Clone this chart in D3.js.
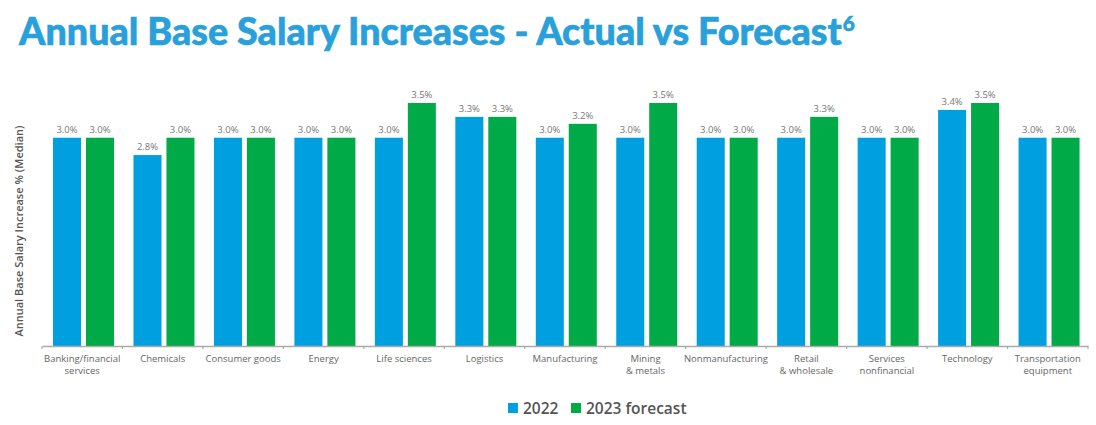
<!DOCTYPE html>
<html>
<head>
<meta charset="utf-8">
<script src="https://cdn.jsdelivr.net/npm/d3@7"></script>
<style>
  html, body { margin: 0; padding: 0; background: #fff; }
  svg { display: block; }
</style>
</head>
<body>
<svg id="chart" width="1096" height="425"></svg>
<script>
// ---- data ----
const categories = [
  "Banking/financial\nservices", "Chemicals", "Consumer goods", "Energy", "Life sciences",
  "Logistics", "Manufacturing", "Mining\n& metals", "Nonmanufacturing", "Retail\n& wholesale",
  "Services\nnonfinancial", "Technology", "Transportation\nequipment"
];
const seriesNames = ["2022", "2023 forecast"];
const values2022 = [3.0, 2.75, 3.0, 3.0, 3.0, 3.3, 3.0, 3.0, 3.0, 3.0, 3.0, 3.4, 3.0];
const values2023 = [3.0, 3.0, 3.0, 3.0, 3.5, 3.3, 3.2, 3.5, 3.0, 3.3, 3.0, 3.5, 3.0];
const colors = ["#009fe0", "#00aa46"];
const titleText = "Annual Base Salary Increases - Actual vs Forecast";
const titleSup = "6";
const yTitle = "Annual Base Salary Increase % (Median)";

const svg = d3.select("#chart");
const font = "'Open Sans', 'Noto Sans', sans-serif";

// ---- title ----
const title = svg.append("text")
  .attr("x", 19).attr("y", 45)
  .attr("font-family", "Lato, 'Open Sans', sans-serif")
  .attr("font-weight", 900)
  .attr("font-size", 34)
  .attr("fill", "#27a0db")
  .attr("stroke", "#27a0db")
  .attr("stroke-width", 0.6)
  .text(titleText);
// fit title width to reference (~823px)
const tw = title.node().getComputedTextLength();
const fs = 34 * 823 / tw;
title.attr("font-size", fs);
title.append("tspan").attr("dy", -fs * 0.38).attr("dx", 1).attr("font-size", fs * 0.55).text(titleSup);

// ---- scales ----
const x0 = d3.scaleBand().domain(categories).range([42, 1088]).padding(0);
const x1 = d3.scaleBand().domain(seriesNames)
  .range([x0.bandwidth() * 0.137, x0.bandwidth() * 0.895]).paddingInner(0.15);
const y = d3.scaleLinear().domain([0, 3.5]).range([346, 103]);

const fmt = d3.format(".1f");

// ---- bars ----
const g = svg.append("g");
const rows = categories.map((c, i) => ({ c, vals: [values2022[i], values2023[i]] }));
const groups = g.selectAll("g.cat").data(rows).join("g")
  .attr("class", "cat")
  .attr("transform", d => `translate(${x0(d.c)},0)`);

groups.selectAll("rect").data(d => d.vals.map((v, j) => ({ s: seriesNames[j], v, j })))
  .join("rect")
  .attr("x", d => x1(d.s))
  .attr("width", x1.bandwidth())
  .attr("y", d => y(d.v))
  .attr("height", d => y(0) - y(d.v))
  .attr("fill", d => colors[d.j]);

groups.selectAll("text.val").data(d => d.vals.map((v, j) => ({ s: seriesNames[j], v, j })))
  .join("text")
  .attr("class", "val")
  .attr("x", d => x1(d.s) + x1.bandwidth() / 2)
  .attr("y", d => y(d.v) - 5)
  .attr("text-anchor", "middle")
  .attr("font-family", font)
  .attr("font-size", 9.5)
  .attr("fill", "#777")
  .text(d => fmt(d.v) + "%");

// ---- x axis ----
const axis = svg.append("g").attr("transform", `translate(0,${y(0)})`)
  .call(d3.axisBottom(x0).tickSize(0).tickSizeOuter(0).tickPadding(0).tickFormat(() => ""));
axis.select(".domain").attr("stroke", "#aaa").attr("stroke-width", 1.5);

// boundary ticks
const bounds = categories.map(c => x0(c)).concat([x0.range()[1]]);
axis.selectAll("line.bt").data(bounds).join("line")
  .attr("class", "bt")
  .attr("x1", d => d).attr("x2", d => d)
  .attr("y1", 0).attr("y2", 3)
  .attr("stroke", "#aaa").attr("stroke-width", 1.2);

// category labels (multi-line)
axis.selectAll("g.tick").each(function(d) {
  const t = d3.select(this).append("text")
    .attr("fill", "#666")
    .attr("font-family", font)
    .attr("font-size", 9.5)
    .attr("text-anchor", "middle");
  d.split("\n").forEach((line, i) => {
    t.append("tspan").attr("x", 0).attr("y", 16 + i * 12).text(line);
  });
});

// ---- y title ----
svg.append("text")
  .attr("transform", `translate(23,231) rotate(-90)`)
  .attr("text-anchor", "middle")
  .attr("font-family", font)
  .attr("font-weight", 600)
  .attr("font-size", 11)
  .attr("fill", "#555")
  .text(yTitle);

// ---- legend ----
const legend = svg.append("g");
const legendX = [508, 571];
seriesNames.forEach((s, i) => {
  legend.append("rect")
    .attr("x", legendX[i]).attr("y", 403)
    .attr("width", 10).attr("height", 10)
    .attr("fill", colors[i]);
  legend.append("text")
    .attr("x", legendX[i] + 15).attr("y", 413.5)
    .attr("font-family", font)
    .attr("font-weight", 600)
    .attr("font-size", 15.5)
    .attr("fill", "#555")
    .text(s);
});
</script>
</body>
</html>
